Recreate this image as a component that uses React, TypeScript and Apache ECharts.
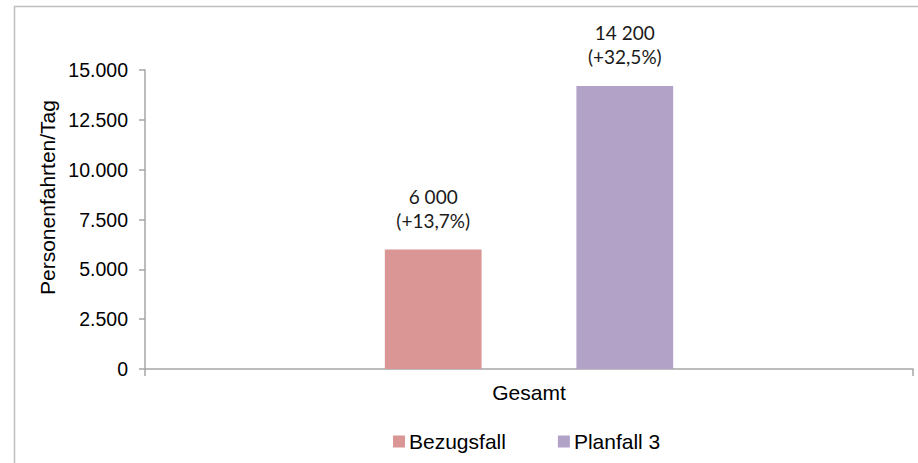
import React, { useEffect, useRef } from "react";
import * as echarts from "echarts";

// Categories and series values
const categories = ["Gesamt"];
const seriesNames = ["Bezugsfall", "Planfall 3"];
const bezugsfallValues = [6000];
const planfallValues = [14200];
const bezugsfallChange = ["+13,7%"];
const planfallChange = ["+32,5%"];

// Y-axis ticks
const yMin = 0;
const yMax = 15000;
const yStep = 2500;

const yAxisTitle = "Personenfahrten/Tag";

const colors = ["#d99694", "#b3a2c7"];
const axisGray = "#a6a6a6";

// 14200 -> "14 200"
const spaced = (v: number) => String(Math.round(v)).replace(/\B(?=(\d{3})+(?!\d))/g, " ");
// 12500 -> "12.500"
const dotted = (v: number) => String(Math.round(v)).replace(/\B(?=(\d{3})+(?!\d))/g, ".");

export default function App() {
  const ref = useRef<HTMLDivElement>(null);

  useEffect(() => {
    if (!ref.current) return;
    const chart = echarts.init(ref.current, null, { renderer: "svg" });

    const labelFor = (changes: string[]) => ({
      show: true,
      position: "top" as const,
      distance: 17,
      fontFamily: "Lato, Carlito, sans-serif",
      fontSize: 19,
      lineHeight: 24,
      color: "#1a1a1a",
      align: "center" as const,
      formatter: (p: any) => `${spaced(p.value)}\n(${changes[p.dataIndex]})`,
    });

    chart.setOption({
      animation: false,
      backgroundColor: "#ffffff",
      textStyle: { fontFamily: "Arial, 'Liberation Sans', sans-serif" },
      graphic: [
        {
          type: "rect",
          shape: { x: 14.5, y: 6.5, width: 1000, height: 1000 },
          style: { fill: "none", stroke: "#bfbfbf", lineWidth: 1.5 },
          silent: true,
        },
        {
          type: "text",
          x: 47,
          y: 197.5,
          rotation: Math.PI / 2,
          style: {
            text: yAxisTitle,
            fontFamily: "Arial, 'Liberation Sans', sans-serif",
            fontSize: 21,
            fill: "#000000",
            textAlign: "center",
            textVerticalAlign: "middle",
          },
        },
      ],
      legend: {
        left: 393,
        top: 431,
        padding: 0,
        itemWidth: 12,
        itemHeight: 12,
        itemGap: 52,
        icon: "rect",
        textStyle: {
          fontFamily: "Arial, 'Liberation Sans', sans-serif",
          fontSize: 21,
          color: "#000000",
          padding: [0, 0, 0, -1],
        },
        data: seriesNames,
      },
      grid: { left: 145, right: 5, top: 70, bottom: 94, containLabel: false },
      xAxis: {
        type: "category",
        data: categories,
        boundaryGap: true,
        axisLine: { show: true, lineStyle: { color: axisGray, width: 1.5 } },
        axisTick: { show: true, length: 7, interval: 0, lineStyle: { color: axisGray, width: 1.5 } },
        axisLabel: {
          margin: 13,
          fontFamily: "Arial, 'Liberation Sans', sans-serif",
          fontSize: 21,
          color: "#000000",
        },
      },
      yAxis: {
        type: "value",
        min: yMin,
        max: yMax,
        interval: yStep,
        splitLine: { show: false },
        axisLine: { show: true, lineStyle: { color: axisGray, width: 1.5 } },
        axisTick: { show: true, length: 6, lineStyle: { color: axisGray, width: 1.5 } },
        axisLabel: {
          margin: 17,
          fontFamily: "Arial, 'Liberation Sans', sans-serif",
          fontSize: 19.5,
          color: "#000000",
          formatter: (v: number) => dotted(v),
        },
      },
      series: [
        {
          name: seriesNames[0],
          type: "bar",
          data: bezugsfallValues,
          barWidth: "12.6%",
          barGap: "98%",
          itemStyle: { color: colors[0] },
          label: labelFor(bezugsfallChange),
        },
        {
          name: seriesNames[1],
          type: "bar",
          data: planfallValues,
          barWidth: "12.6%",
          barGap: "98%",
          itemStyle: { color: colors[1] },
          label: labelFor(planfallChange),
        },
      ],
    });

    return () => chart.dispose();
  }, []);

  return (
    <div
      ref={ref}
      style={{ position: "absolute", left: 0, top: 0, width: 918, height: 463 }}
    />
  );
}
